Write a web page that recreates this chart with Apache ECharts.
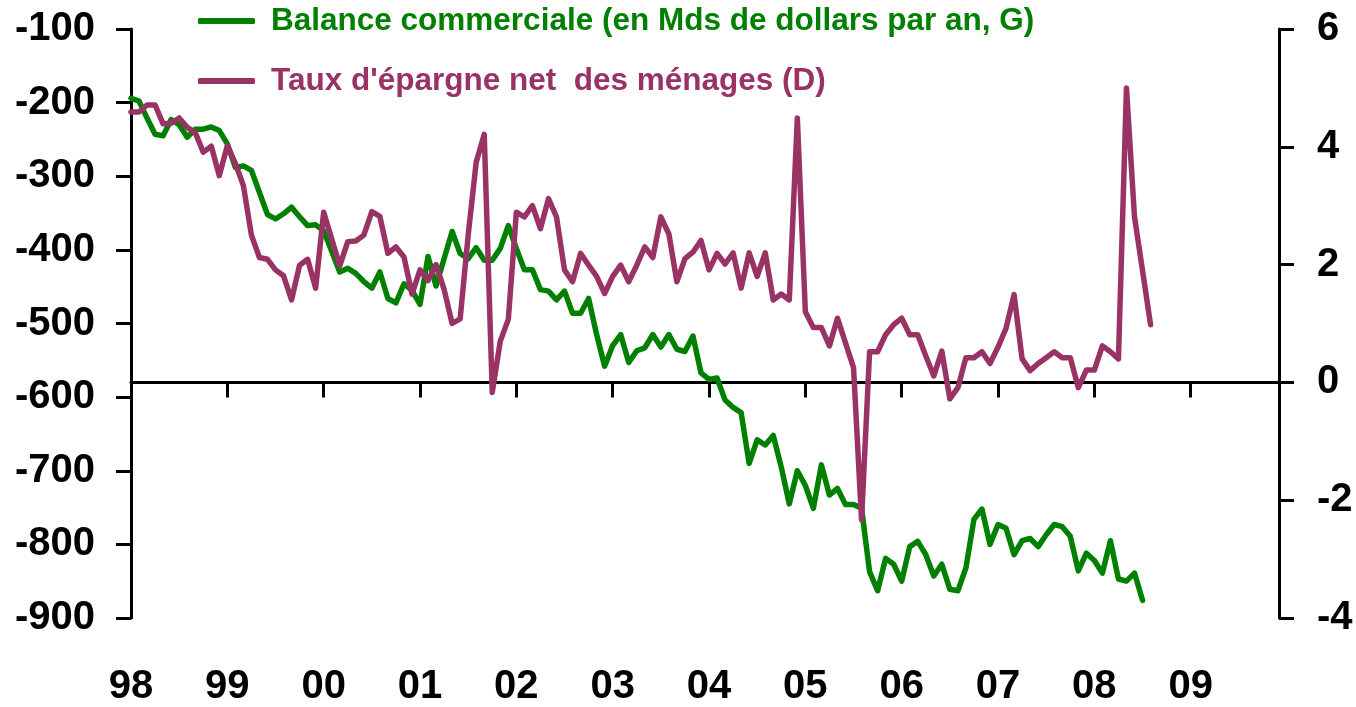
<!DOCTYPE html>
<html>
<head>
<meta charset="utf-8">
<script src="https://cdn.jsdelivr.net/npm/echarts@6/dist/echarts.min.js"></script>
<style>
  html, body { margin: 0; padding: 0; background: #fff; }
  #chart { width: 1356px; height: 707px; }
</style>
</head>
<body>
<div id="chart"></div>
<script>
// Year tick labels (two-digit) for the monthly axis, Jan 1998 .. Dec 2009
const yearLabels = ['98', '99', '00', '01', '02', '03', '04', '05', '06', '07', '08', '09'];

// Trade balance, bn USD annualised (left axis), monthly from Jan 1998
const balance = [
  -194, -198, -221, -243, -245, -223, -230, -247, -236, -236, -233, -238,
  -256, -288, -286, -292, -322, -352, -358, -351, -342, -355, -367, -366,
  -374, -402, -430, -425, -432, -443, -452, -430, -466, -472, -446, -455,
  -474, -409, -449, -412, -375, -405, -412, -397, -414, -414, -398, -367,
  -398, -427, -427, -454, -456, -468, -456, -486, -486, -466, -515, -558,
  -530, -515, -553, -537, -533, -515, -532, -515, -535, -538, -517, -567,
  -576, -574, -604, -614, -621, -690, -658, -665, -652, -695, -745, -700,
  -720, -751, -692, -733, -724, -746, -746, -751, -837, -863, -819, -827,
  -850, -803, -796, -814, -843, -827, -861, -863, -832, -766, -752, -800,
  -773, -778, -814, -795, -792, -803, -787, -773, -776, -789, -836, -812,
  -822, -839, -795, -847, -850, -839, -876
];

// Household net saving rate, % (right axis), monthly from Jan 1998
const savingRate = [
  4.59, 4.59, 4.71, 4.71, 4.39, 4.40, 4.49, 4.33, 4.24, 3.91, 4.01, 3.51,
  4.02, 3.72, 3.34, 2.50, 2.12, 2.09, 1.91, 1.81, 1.40, 1.99, 2.09, 1.60,
  2.89, 2.44, 1.98, 2.39, 2.40, 2.50, 2.90, 2.82, 2.19, 2.30, 2.13, 1.50,
  1.91, 1.73, 2.00, 1.58, 1.00, 1.08, 2.50, 3.74, 4.21, -0.17, 0.70, 1.07,
  2.89, 2.81, 3.00, 2.61, 3.12, 2.81, 1.91, 1.71, 2.19, 1.99, 1.80, 1.51,
  1.80, 1.99, 1.71, 1.99, 2.30, 2.12, 2.81, 2.52, 1.71, 2.10, 2.21, 2.41,
  1.91, 2.19, 2.01, 2.20, 1.60, 2.20, 1.80, 2.20, 1.40, 1.50, 1.40, 4.49,
  1.20, 0.93, 0.93, 0.62, 1.09, 0.67, 0.25, -2.33, 0.52, 0.52, 0.81, 0.98,
  1.09, 0.81, 0.81, 0.45, 0.11, 0.53, -0.28, -0.09, 0.42, 0.42, 0.52, 0.32,
  0.60, 0.92, 1.49, 0.40, 0.20, 0.32, 0.42, 0.52, 0.42, 0.42, -0.09, 0.21,
  0.21, 0.62, 0.52, 0.40, 5.00, 2.81, 1.90, 0.98
];

// Legend texts
const balanceName = 'Balance commerciale (en Mds de dollars par an, G)';
const savingName = "Taux d'épargne net  des ménages (D)";

// One category per month; the label of each January carries the year
const months = [];
yearLabels.forEach(function (y) {
  for (let m = 1; m <= 12; m++) months.push(y + '-' + (m < 10 ? '0' + m : m));
});

const GREEN = '#008000';
const PURPLE = '#993366';
const FONT = '"Liberation Sans", Arial, sans-serif';

const chart = echarts.init(document.getElementById('chart'), null, { renderer: 'canvas' });

const axisLineStyle = { color: '#000', width: 3 };
const isJanuary = function (idx) { return idx % 12 === 0; };

function legendFor(name, color, top) {
  return {
    data: [{ name: name, icon: 'roundRect' }],
    left: 198,
    top: top,
    padding: 0,
    itemWidth: 57,
    itemHeight: 6,
    selectedMode: false,
    textStyle: {
      color: color,
      fontFamily: FONT,
      fontWeight: 'bold',
      fontSize: 31.5,
      lineHeight: 32,
      padding: [0, 0, 0, 11]
    }
  };
}

chart.setOption({
  animation: false,
  backgroundColor: '#fff',
  grid: { left: 131, right: 77, top: 29, bottom: 85, containLabel: false },
  legend: [
    legendFor(balanceName, GREEN, 5),
    legendFor(savingName, PURPLE, 65)
  ],
  xAxis: {
    type: 'category',
    data: months,
    boundaryGap: false,
    axisLine: { lineStyle: axisLineStyle },
    axisTick: { show: true, interval: isJanuary, length: 15, lineStyle: { color: '#000', width: 3 } },
    axisLabel: {
      interval: isJanuary,
      margin: 49,
      color: '#000',
      fontFamily: FONT,
      fontWeight: 'bold',
      fontSize: 40,
      formatter: function (v) { return v.slice(0, 2); }
    },
    splitLine: { show: false }
  },
  yAxis: [
    {
      type: 'value',
      position: 'left',
      min: -900,
      max: -100,
      interval: 100,
      axisLine: { show: true, lineStyle: axisLineStyle },
      axisTick: { show: true, length: 15, lineStyle: { color: '#000', width: 3 } },
      axisLabel: {
        margin: 36,
        color: '#000',
        fontFamily: FONT,
        fontWeight: 'bold',
        fontSize: 40
      },
      splitLine: { show: false }
    },
    {
      type: 'value',
      position: 'right',
      min: -4,
      max: 6,
      interval: 2,
      axisLine: { show: true, lineStyle: axisLineStyle },
      axisTick: { show: true, length: 15, lineStyle: { color: '#000', width: 3 } },
      axisLabel: {
        margin: 38,
        align: 'left',
        color: '#000',
        fontFamily: FONT,
        fontWeight: 'bold',
        fontSize: 40
      },
      splitLine: { show: false }
    }
  ],
  series: [
    {
      name: balanceName,
      type: 'line',
      yAxisIndex: 0,
      data: balance,
      showSymbol: false,
      symbol: 'none',
      color: GREEN,
      lineStyle: { color: GREEN, width: 5.5, join: 'round', cap: 'round' },
      z: 3
    },
    {
      name: savingName,
      type: 'line',
      yAxisIndex: 1,
      data: savingRate,
      showSymbol: false,
      symbol: 'none',
      color: PURPLE,
      lineStyle: { color: PURPLE, width: 5.5, join: 'round', cap: 'round' },
      z: 4,
      markLine: {
        silent: true,
        symbol: 'none',
        label: { show: false },
        lineStyle: { color: '#000', width: 3, type: 'solid' },
        data: [{ yAxis: 0 }],
        z: 2
      }
    }
  ]
});
</script>
</body>
</html>
